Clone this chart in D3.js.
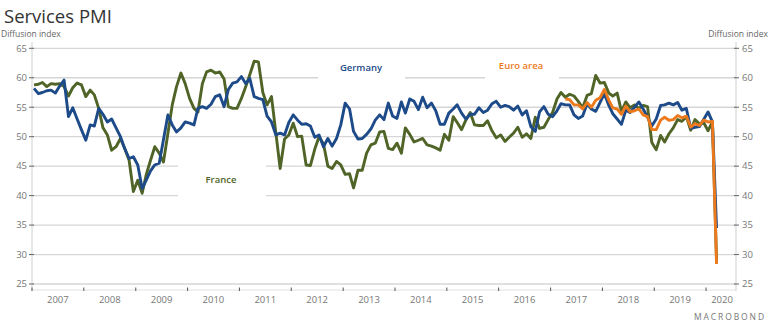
<!DOCTYPE html>
<html>
<head>
<meta charset="utf-8">
<style>
  body { margin: 0; background: #fff; }
  text { font-family: "Open Sans", sans-serif; }
</style>
</head>
<body>
<div id="viz"></div>
<script src="https://d3js.org/d3.v7.min.js"></script>
<script>

// monthly services PMI, Jan 2007 .. Mar 2020
const germany = [
  58.2, 57.3, 57.5, 57.8, 57.9, 57.4, 58.6, 59.6, 53.4, 54.9, 53.0, 51.2,
  49.4, 52.0, 51.8, 54.8, 53.8, 52.5, 53.0, 51.5, 50.0, 48.0, 46.3, 46.6,
  45.2, 41.2, 42.6, 44.2, 45.2, 45.5, 49.5, 53.7, 52.0, 50.8, 51.5, 52.5,
  52.3, 52.0, 54.8, 55.1, 54.8, 55.5, 56.8, 57.1, 55.1, 58.0, 59.1, 59.3,
  60.2, 59.0, 59.9, 56.8, 56.5, 56.3, 53.5, 52.5, 50.3, 50.6, 50.3, 52.4,
  53.7, 52.8, 52.1, 52.2, 51.8, 49.9, 50.3, 48.3, 49.7, 48.4, 49.7, 52.0,
  55.7, 54.7, 50.9, 49.6, 49.7, 50.4, 51.3, 52.8, 53.7, 52.9, 55.7, 53.5,
  53.1, 55.9, 54.0, 56.4, 56.0, 54.6, 56.7, 54.9, 55.7, 54.4, 52.1, 52.1,
  54.0, 54.7, 55.4, 54.0, 53.0, 53.8, 53.8, 54.9, 54.1, 54.5, 55.6, 56.0,
  55.0, 55.3, 55.1, 54.5, 55.2, 53.7, 54.4, 51.7, 50.9, 54.2, 55.1, 53.8,
  53.4, 54.4, 55.6, 55.4, 55.4, 53.7, 53.1, 53.5, 55.6, 54.7, 54.3, 55.8,
  57.3, 55.3, 53.9, 53.0, 52.1, 54.5, 54.1, 55.0, 55.9, 54.7, 53.3, 51.8,
  53.0, 55.3, 55.4, 55.7, 55.4, 55.8, 54.5, 54.8, 51.4, 51.6, 51.7, 52.9,
  54.2, 52.5, 34.5
];

const france = [
  58.8, 58.9, 59.2, 58.5, 59.0, 58.9, 59.0, 58.5, 56.9, 58.3, 59.1, 58.8,
  56.8, 57.9, 57.1, 54.8, 51.5, 50.3, 47.7, 48.3, 49.7, 48.0, 46.0, 40.7,
  42.6, 40.4, 43.5, 46.0, 48.3, 47.2, 45.7, 50.5, 55.4, 58.5, 60.8, 59.0,
  56.5, 54.8, 54.2, 59.0, 61.0, 61.3, 60.8, 61.0, 59.8, 55.1, 54.8, 54.8,
  56.5, 58.5, 60.5, 62.8, 62.7, 57.5, 55.4, 56.8, 50.6, 44.6, 49.6, 50.3,
  52.3, 50.0, 50.1, 45.2, 45.1, 47.9, 50.0, 48.8, 45.0, 44.6, 45.8, 45.2,
  43.6, 43.7, 41.3, 44.3, 44.3, 47.2, 48.6, 48.9, 50.8, 50.9, 48.0, 47.8,
  48.9, 47.2, 51.5, 50.4, 49.1, 49.4, 49.7, 48.6, 48.4, 48.1, 47.7, 50.4,
  49.4, 53.4, 52.4, 51.2, 52.8, 54.1, 52.0, 51.9, 51.9, 52.7, 51.0, 49.8,
  50.3, 49.2, 49.9, 50.6, 51.6, 49.9, 50.5, 49.7, 53.3, 51.4, 51.6, 52.9,
  54.1, 56.4, 57.5, 56.7, 57.2, 56.9, 56.0, 54.9, 57.0, 57.3, 60.4, 59.1,
  59.2, 57.4, 56.9, 57.4, 54.3, 55.9, 54.9, 55.4, 54.8, 55.3, 55.1, 49.0,
  47.8, 50.2, 49.1, 50.5, 51.5, 52.9, 52.6, 53.4, 51.1, 52.9, 52.2, 52.4,
  51.0, 52.5, 29.0
];

// euro area, Apr 2017 .. Mar 2020
const euroArea = [
  56.4, 56.3, 55.4, 55.4, 54.7, 55.8, 55.0, 56.2, 56.6,
  58.0, 56.2, 54.9, 54.7, 53.8, 55.2, 54.2, 54.4, 54.7, 53.7, 53.4, 51.2,
  51.2, 52.8, 53.3, 52.8, 52.9, 53.6, 53.2, 53.5, 51.6, 52.2, 51.9, 52.8,
  52.5, 52.6, 28.4
];
const euroStartMonth = 123; // months after Jan 2007

const years = d3.range(2007, 2021);
const yTicks = [25, 30, 35, 40, 45, 50, 55, 60, 65];

const colors = { germany: "#1d4a88", france: "#4f6426", euro: "#ec7a1c" };

const width = 770, height = 330;
const plotL = 32, plotR = 736, plotT = 48.3, plotB = 284;

const svg = d3.select("#viz").append("svg")
    .attr("width", width)
    .attr("height", height);

const x = d3.scaleTime()
    .domain([new Date(2007, 0, 1), new Date(2020, 6, 30)])
    .range([plotL, plotR]);

const y = d3.scaleLinear()
    .domain([25, 65])
    .range([plotB, plotT]);

const monthDate = i => new Date(2007, i, 15);

// title + units
svg.append("text")
    .attr("x", 4).attr("y", 23)
    .attr("font-size", 18.5)
    .attr("fill", "#333")
    .text("Services PMI");

svg.append("text")
    .attr("x", 1).attr("y", 37)
    .attr("font-size", 8.5)
    .attr("fill", "#666")
    .text("Diffusion index");

svg.append("text")
    .attr("x", 768).attr("y", 37)
    .attr("text-anchor", "end")
    .attr("font-size", 8.5)
    .attr("fill", "#666")
    .text("Diffusion index");

// gridlines
svg.append("g").selectAll("line")
    .data(yTicks)
  .enter().append("line")
    .attr("x1", plotL).attr("x2", plotR)
    .attr("y1", d => y(d)).attr("y2", d => y(d))
    .attr("stroke", "#d6d6d6")
    .attr("stroke-width", 1.3);

// axis frames
svg.append("line")
    .attr("x1", plotL).attr("x2", plotL)
    .attr("y1", 42).attr("y2", 291)
    .attr("stroke", "#cfcfcf");
svg.append("line")
    .attr("x1", plotR).attr("x2", plotR)
    .attr("y1", 42).attr("y2", 291)
    .attr("stroke", "#cfcfcf");
svg.append("line")
    .attr("x1", plotL).attr("x2", plotR)
    .attr("y1", 290).attr("y2", 290)
    .attr("stroke", "#e2e2e2");

// y ticks + labels on both sides
const yl = svg.append("g");
yl.selectAll(".tl")
    .data(yTicks)
  .enter().append("line")
    .attr("x1", plotL - 3).attr("x2", plotL + 2)
    .attr("y1", d => y(d)).attr("y2", d => y(d))
    .attr("stroke", "#666");
yl.selectAll(".tr")
    .data(yTicks)
  .enter().append("line")
    .attr("x1", plotR - 2).attr("x2", plotR + 3)
    .attr("y1", d => y(d)).attr("y2", d => y(d))
    .attr("stroke", "#666");
yl.selectAll(".ll")
    .data(yTicks)
  .enter().append("text")
    .attr("x", plotL - 5)
    .attr("y", d => y(d))
    .attr("dy", "0.35em")
    .attr("text-anchor", "end")
    .attr("font-size", 9.5)
    .attr("fill", "#777")
    .text(d => d);
yl.selectAll(".lr")
    .data(yTicks)
  .enter().append("text")
    .attr("x", plotR + 6)
    .attr("y", d => y(d))
    .attr("dy", "0.35em")
    .attr("font-size", 9.5)
    .attr("fill", "#777")
    .text(d => d);

// x ticks at year boundaries, labels at year centre
svg.append("g").selectAll("line")
    .data(years)
  .enter().append("line")
    .attr("x1", d => x(new Date(d, 0, 1))).attr("x2", d => x(new Date(d, 0, 1)))
    .attr("y1", 287.5).attr("y2", 291)
    .attr("stroke", "#555");

svg.append("g").selectAll("text")
    .data(years)
  .enter().append("text")
    .attr("x", d => d < 2020
        ? x(new Date(d, 6, 2))
        : (x(new Date(d, 0, 1)) + plotR) / 2 + 1)
    .attr("y", 303)
    .attr("text-anchor", "middle")
    .attr("font-size", 9.5)
    .attr("fill", "#777")
    .text(d => d);

// white boxes behind the series labels
const labels = [
  { name: "Germany", color: colors.germany, lx: 361, ly: 71, box: [318, 54, 87, 38] },
  { name: "France", color: colors.france, lx: 221, ly: 183, box: [178, 150, 88, 55] },
  { name: "Euro area", color: colors.euro, lx: 521, ly: 69, box: [485, 56, 74, 30] }
];

svg.append("g").selectAll("rect")
    .data(labels)
  .enter().append("rect")
    .attr("x", d => d.box[0]).attr("y", d => d.box[1])
    .attr("width", d => d.box[2]).attr("height", d => d.box[3])
    .attr("fill", "#fff");

// series
const line = d3.line()
    .x(d => x(d.date))
    .y(d => y(d.value));

const series = [
  { key: "france", values: france.map((v, i) => ({ date: monthDate(i), value: v })) },
  { key: "germany", values: germany.map((v, i) => ({ date: monthDate(i), value: v })) },
  { key: "euro", values: euroArea.map((v, i) => ({ date: monthDate(euroStartMonth + i), value: v })) }
];

svg.append("g").selectAll("path")
    .data(series)
  .enter().append("path")
    .attr("d", d => line(d.values))
    .attr("fill", "none")
    .attr("stroke", d => colors[d.key])
    .attr("stroke-width", 2.9)
    .attr("stroke-linejoin", "round");

svg.append("g").selectAll("text")
    .data(labels)
  .enter().append("text")
    .attr("x", d => d.lx).attr("y", d => d.ly)
    .attr("text-anchor", "middle")
    .attr("font-size", 9.5)
    .attr("font-weight", 600)
    .attr("fill", d => d.color)
    .text(d => d.name);

// source mark
svg.append("text")
    .attr("x", 766).attr("y", 320)
    .attr("text-anchor", "end")
    .attr("font-size", 8.5)
    .attr("letter-spacing", 1.9)
    .attr("fill", "#777")
    .text("MACROBOND");

</script>
</body>
</html>
